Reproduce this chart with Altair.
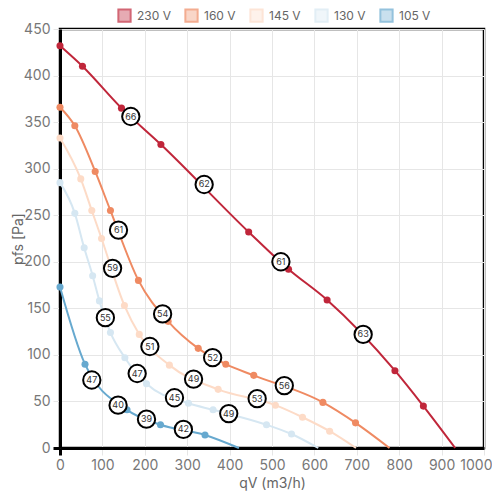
"""Fan curves: static pressure vs air flow for five supply voltages."""
import altair as alt
import pandas as pd

series = ["230 V", "160 V", "145 V", "130 V", "105 V"]
colors = ["#c0263a", "#ef8a62", "#fddbc7", "#d6e7f2", "#67a9cf"]
# half-transparent versions used for the legend boxes
legend_fill = ["#dc8893", "#f7c5b1", "#feede3", "#ebf3f9", "#b3d4e7"]

# curve points (qV in m3/h, pfs in Pa)
qv_230 = [0, 53, 145, 238, 445, 539, 630, 790, 857, 932]
pfs_230 = [432, 410, 365, 326, 232, 192, 159, 83, 45, 0]

qv_160 = [0, 35, 83, 119, 185, 255, 326, 391, 457, 620, 697, 777]
pfs_160 = [366, 346, 297, 255, 180, 136, 107, 90, 78, 49, 27, 0]

qv_145 = [0, 49, 75, 98, 152, 187, 258, 373, 508, 572, 636, 698]
pfs_145 = [333, 289, 255, 225, 153, 122, 89, 63, 46, 33, 18, 0]

qv_130 = [0, 35, 57, 77, 93, 119, 153, 204, 303, 361, 487, 546, 609]
pfs_130 = [285, 252, 215, 185, 158, 124, 97, 69, 48, 41, 25, 15, 0]

qv_105 = [0, 59, 158, 237, 342, 422]
pfs_105 = [173, 90, 41, 25, 14, 0]

# circled values sitting on the curves
label_qv = [167, 340, 521, 715,
            138, 242, 360, 529,
            124, 212, 315, 465,
            107, 182, 270, 398,
            75, 137, 204, 291]
label_pfs = [356, 283, 200, 122,
             234, 144, 97, 67,
             193, 109, 74, 53,
             140, 80, 54, 37,
             73, 46, 31, 20]
label_text = ["66", "62", "61", "63",
              "61", "54", "52", "56",
              "59", "51", "49", "53",
              "55", "47", "45", "49",
              "47", "40", "39", "42"]

rows = []
for name, qv, pfs in zip(series,
                         [qv_230, qv_160, qv_145, qv_130, qv_105],
                         [pfs_230, pfs_160, pfs_145, pfs_130, pfs_105]):
    for i, (x, y) in enumerate(zip(qv, pfs)):
        rows.append({"series": name, "qv": x, "pfs": y, "order": i})
curves = pd.DataFrame(rows)
dots = curves[curves["pfs"] > 0]
labels = pd.DataFrame({"qv": label_qv, "pfs": label_pfs, "text": label_text})

FONT = "Inter"
x_scale = alt.Scale(domain=[0, 1000], nice=False)
y_scale = alt.Scale(domain=[0, 450], nice=False)
color_scale = alt.Scale(domain=series, range=colors)

zero_color = {"condition": {"test": "datum.value === 0", "value": "black"},
              "value": "#e6e6e6"}
zero_width = {"condition": {"test": "datum.value === 0", "value": 3},
              "value": 1}
# keep the last x label inside the page
last_align = {"condition": {"test": "datum.value === 1000", "value": "right"},
              "value": "center"}
last_offset = {"condition": {"test": "datum.value === 1000", "value": 8},
               "value": 0}

x_enc = alt.X("qv:Q", scale=x_scale, title="qV (m3/h)",
              axis=alt.Axis(values=list(range(0, 1001, 100)), format="d",
                            labelOverlap=False, labelFlush=False, tickSize=7,
                            tickColor=zero_color, tickWidth=zero_width,
                            labelAlign=last_align, labelOffset=last_offset,
                            titlePadding=4))
y_enc = alt.Y("pfs:Q", scale=y_scale, title="pfs [Pa]",
              axis=alt.Axis(values=list(range(0, 451, 50)), format="d",
                            labelOverlap=False, labelFlush=False, tickSize=7,
                            tickColor=zero_color, tickWidth=zero_width,
                            titleX=-42, titleBaseline="middle"))

legend = alt.Legend(orient="none", legendX=57, legendY=-21,
                    direction="horizontal", title=None, symbolType="square",
                    symbolSize=150, symbolStrokeWidth=2, labelFontSize=12,
                    labelColor="#666", labelFont=FONT, columnPadding=10,
                    labelOffset=5)

legend_layer = alt.Chart(curves).transform_filter("false").mark_point(
    shape="square", filled=True, strokeWidth=2
).encode(
    fill=alt.Fill("series:N", scale=alt.Scale(domain=series, range=legend_fill),
                  sort=series, legend=legend),
    stroke=alt.Stroke("series:N", scale=alt.Scale(domain=series, range=colors),
                      sort=series, legend=legend),
)

lines = alt.Chart(curves).mark_line(interpolate="monotone", strokeWidth=2).encode(
    x=x_enc,
    y=y_enc,
    color=alt.Color("series:N", scale=color_scale, sort=series, legend=None),
    order="order:Q",
)

points = alt.Chart(dots).mark_circle(size=50, opacity=1).encode(
    x=x_enc,
    y=y_enc,
    color=alt.Color("series:N", scale=color_scale, sort=series, legend=None),
)

circles = alt.Chart(labels).mark_point(
    shape="circle", filled=True, fill="white", stroke="black",
    strokeWidth=2, size=300, opacity=1
).encode(x=x_enc, y=y_enc)

texts = alt.Chart(labels).mark_text(fontSize=9, color="#333", font=FONT).encode(
    x=x_enc, y=y_enc, text="text:N"
)

chart = alt.layer(legend_layer, lines, points, circles, texts).properties(
    width=424,
    height=419,
    autosize="none",
    padding={"left": 52, "top": 21, "right": 8, "bottom": 44},
).configure_view(
    stroke="black", strokeWidth=2.5
).configure_axis(
    labelFont=FONT, labelFontSize=14, labelColor="#777",
    titleFont=FONT, titleFontSize=14, titleColor="#666",
    titleFontWeight="normal", gridColor="#e6e6e6", domainColor="black",
    domainWidth=3, labelPadding=3
)

chart.save("out.html", embed_options={"renderer": "svg", "actions": False})
